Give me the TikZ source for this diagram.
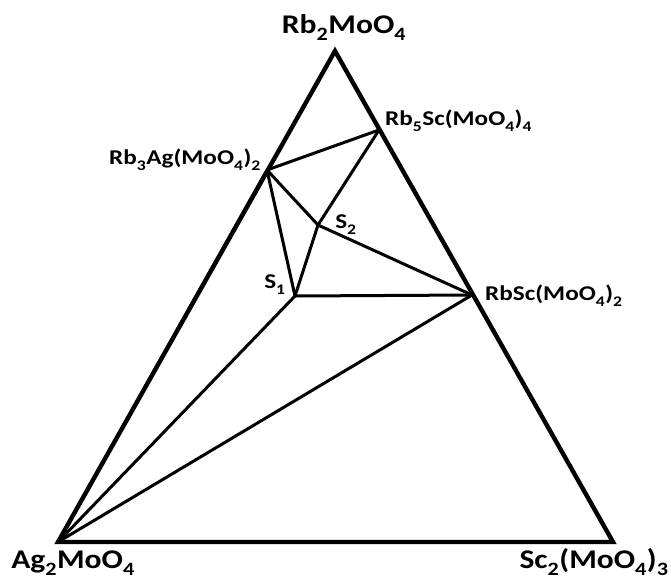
\documentclass[tikz,border=0pt]{standalone}
\usepackage{fontspec}
\setmainfont{Carlito}
\newfontfamily\cornerfont[FakeStretch=1.17]{Carlito}
\newfontfamily\phasefont[FakeStretch=1.2]{Carlito}
\newcommand{\sbs}[1]{\raisebox{-0.3ex}{\textsubscript{#1}}}
\usetikzlibrary{positioning}

\begin{document}
\begin{tikzpicture}[
  x=1pt, y=-1pt,
  edge/.style={line width=4.4pt, line join=miter},
  tie/.style={line width=3pt},
  biglabel/.style={font=\cornerfont\bfseries\fontsize{27}{29}\selectfont, inner sep=0pt},
  smalllabel/.style={font=\phasefont\bfseries\fontsize{21}{23}\selectfont, inner sep=0pt}
]
\useasboundingbox (0,0) rectangle (671,579);

% compositions
\coordinate (rbmo) at (335,51);
\coordinate (agmo) at (58,542);
\coordinate (scmo) at (613,542);
\coordinate (rb5sc) at (379,130);
\coordinate (rb3ag) at (267,170);
\coordinate (rbsc) at (472,295);
\coordinate (s2) at (318,225);
\coordinate (s1) at (295,296);

% triangle
\draw[edge] (agmo) -- (scmo) -- (rbmo) -- cycle;

% tie lines
\draw[tie] (rb3ag) -- (rb5sc);
\draw[tie] (rb3ag) -- (s2);
\draw[tie] (rb3ag) -- (s1);
\draw[tie] (rb3ag) -- (agmo);
\draw[tie] (rb5sc) -- (s2);
\draw[tie] (s2) -- (rbsc);
\draw[tie] (s2) -- (s1);
\draw[tie] (s1) -- (rbsc);
\draw[tie] (s1) -- (agmo);
\draw[tie] (rbsc) -- (agmo);

% labels
\node[biglabel, anchor=base] (lrbmo) at (344,33) {Rb\sbs{2}MoO\sbs{4}};
\node[biglabel, anchor=base] (lagmo) at (73,568) {Ag\sbs{2}MoO\sbs{4}};
\node[biglabel, anchor=base] (lscmo) at (594,568) {Sc\sbs{2}(MoO\sbs{4})\sbs{3}};
\node[smalllabel, anchor=base west] (lrb5sc) at (385,125) {Rb\sbs{5}Sc(MoO\sbs{4})\sbs{4}};
\node[smalllabel, anchor=base east] (lrb3ag) at (261,164) {Rb\sbs{3}Ag(MoO\sbs{4})\sbs{2}};
\node[smalllabel, anchor=base west] (lrbsc) at (485,300) {RbSc(MoO\sbs{4})\sbs{2}};
\node[smalllabel, anchor=base] (ls2) at (346,228) {S\sbs{2}};
\node[smalllabel, anchor=base] (ls1) at (275,288) {S\sbs{1}};
\end{tikzpicture}
\end{document}
